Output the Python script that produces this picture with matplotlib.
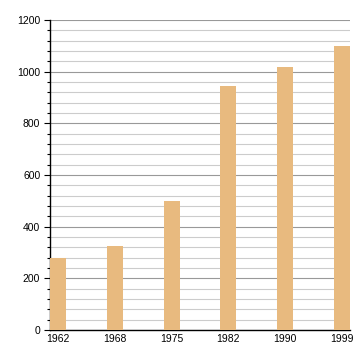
import matplotlib
matplotlib.use('Agg')
import matplotlib.pyplot as plt
from matplotlib.ticker import MultipleLocator

years = ['1962', '1968', '1975', '1982', '1990', '1999']
values = [278, 325, 499, 945, 1018, 1099]

plt.rcParams['font.family'] = ['Liberation Sans', 'DejaVu Sans']

fig = plt.figure(figsize=(3.6, 3.6), dpi=100)
ax = fig.add_axes([50 / 360, 30 / 360, 300 / 360, 310 / 360])

x = range(len(years))
ax.bar(x, values, width=0.28, color='#E8BA7F', zorder=3)

ax.set_xlim(-0.14, len(years) - 1 + 0.14)
ax.set_ylim(0, 1200)
ax.set_xticks(list(x))
ax.set_xticklabels(years)
ax.yaxis.set_major_locator(MultipleLocator(200))
ax.yaxis.set_minor_locator(MultipleLocator(40))

ax.grid(axis='y', which='major', color='#999999', linewidth=0.8, zorder=0)
ax.grid(axis='y', which='minor', color='#cccccc', linewidth=0.8, zorder=0)

for s in ['top', 'right']:
    ax.spines[s].set_visible(False)
ax.spines['left'].set_linewidth(1)
ax.spines['bottom'].set_linewidth(1)

ax.tick_params(axis='y', which='major', length=4, width=0.8, labelsize=7.5, pad=3)
ax.tick_params(axis='y', which='minor', length=2, width=0.8)
ax.tick_params(axis='x', length=0, labelsize=7.5, pad=3)

plt.savefig('out.png', dpi=100)
